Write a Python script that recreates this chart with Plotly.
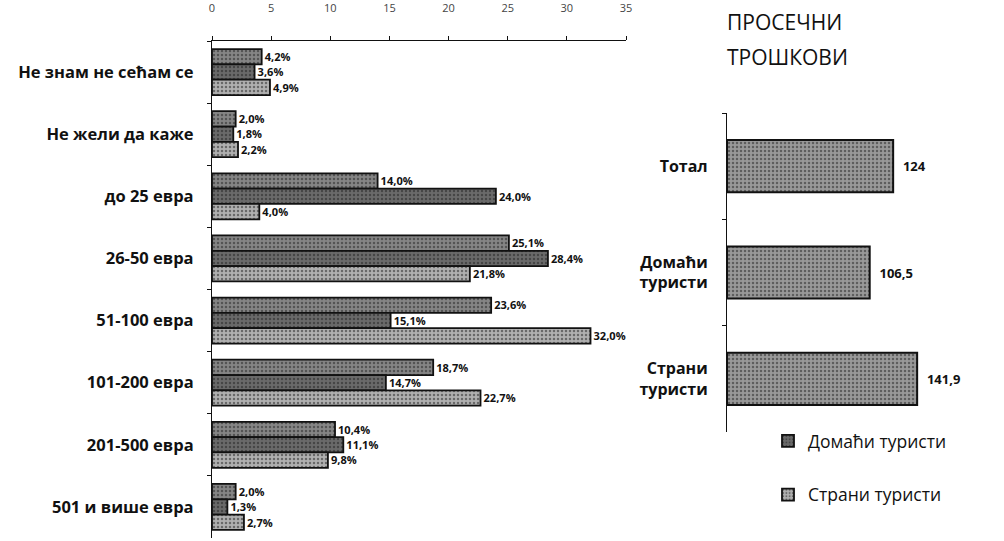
import plotly.graph_objects as go

categories = ["Не знам не сећам се", "Не жели да каже", "до 25 евра", "26-50 евра",
              "51-100 евра", "101-200 евра", "201-500 евра", "501 и више евра"]
total = [4.2, 2.0, 14.0, 25.1, 23.6, 18.7, 10.4, 2.0]
domestic = [3.6, 1.8, 24.0, 28.4, 15.1, 14.7, 11.1, 1.3]
foreign = [4.9, 2.2, 4.0, 21.8, 32.0, 22.7, 9.8, 2.7]

avg_categories = ["Тотал", "Домаћи<br>туристи", "Страни<br>туристи"]
avg_values = [124, 106.5, 141.9]

x_ticks = [0, 5, 10, 15, 20, 25, 30, 35]

FONT = "Open Sans"
W, H = 1004, 541

def px(v):
    return v / W

def py(v):
    return 1 - v / H

fig = go.Figure()

series = [
    ("Тотал", total, "#858585", False),
    ("Домаћи туристи", domestic, "#6a6a6a", True),
    ("Страни туристи", foreign, "#b0b0b0", True),
]
for name, vals, col, show in series:
    fig.add_trace(go.Bar(
        y=categories, x=vals, orientation="h", name=name,
        legendgroup=name, showlegend=show,
        marker=dict(color=col, line=dict(color="#111111", width=1.8),
                    pattern=dict(shape=".", fgcolor="#222222", bgcolor=col,
                                 size=4, solidity=0.3)),
        texttemplate="%{x:.1f}%", textposition="outside",
        textfont=dict(family=FONT, size=13, color="#111111", weight="bold"),
        cliponaxis=False,
        xaxis="x", yaxis="y",
    ))

fig.add_trace(go.Bar(
    y=avg_categories, x=avg_values, orientation="h", showlegend=False,
    marker=dict(color="#999999", line=dict(color="#111111", width=2),
                pattern=dict(shape=".", fgcolor="#222222", bgcolor="#999999",
                             size=4, solidity=0.3)),
    texttemplate="  %{x}", textposition="outside",
    textfont=dict(family=FONT, size=13, color="#111111", weight="bold"),
    cliponaxis=False, width=0.49,
    xaxis="x2", yaxis="y2",
))

fig.update_layout(
    width=W, height=H,
    margin=dict(l=0, r=0, t=0, b=0),
    paper_bgcolor="white", plot_bgcolor="white",
    separators=",.",
    barmode="group", bargap=0.26, bargroupgap=0.0,
    font=dict(family=FONT, color="#111111"),
    xaxis=dict(domain=[px(212), px(626)], range=[0, 35], side="top",
               tickvals=x_ticks, showgrid=False, zeroline=False,
               showline=True, linecolor="#111111", linewidth=1.2,
               ticks="outside", ticklen=4, tickcolor="#111111",
               tickfont=dict(size=11, color="#444444"), anchor="y",
               ticklabelstandoff=20, automargin=False),
    yaxis=dict(domain=[py(538), py(41)], autorange="reversed",
               showgrid=False, zeroline=False, showline=True,
               linecolor="#111111", linewidth=1.2, ticks="outside",
               tickson="boundaries", ticklen=4, tickcolor="#111111",
               tickfont=dict(size=16.5, color="#111111", family=FONT, weight="bold"),
               ticklabelstandoff=14, anchor="x", automargin=False),
    xaxis2=dict(domain=[px(727), px(995)], range=[0, 200], visible=False,
                anchor="y2"),
    yaxis2=dict(domain=[py(432), py(113)], autorange="reversed",
                showgrid=False, zeroline=False, showline=True,
                linecolor="#111111", linewidth=1.2, ticks="outside",
                tickson="boundaries", ticklen=4, tickcolor="#111111",
                tickfont=dict(size=16, color="#111111", family=FONT, weight="bold"),
                ticklabelstandoff=15, anchor="x2", automargin=False),
    legend=dict(x=px(768), y=py(423), xanchor="left", yanchor="top",
                font=dict(size=17.5, family=FONT, color="#111111"),
                tracegroupgap=28, bgcolor="rgba(0,0,0,0)",
                itemwidth=30),
    annotations=[
        dict(text="ПРОСЕЧНИ", x=px(725), y=py(22), xref="paper", yref="paper",
             xanchor="left", yanchor="middle", showarrow=False,
             font=dict(size=21, family=FONT, color="#111111")),
        dict(text="ТРОШКОВИ", x=px(725), y=py(57), xref="paper", yref="paper",
             xanchor="left", yanchor="middle", showarrow=False,
             font=dict(size=21, family=FONT, color="#111111")),
    ],
)

fig.write_html("out.html",
               config={"displayModeBar": False},
               post_script="document.body.style.margin='0';")
